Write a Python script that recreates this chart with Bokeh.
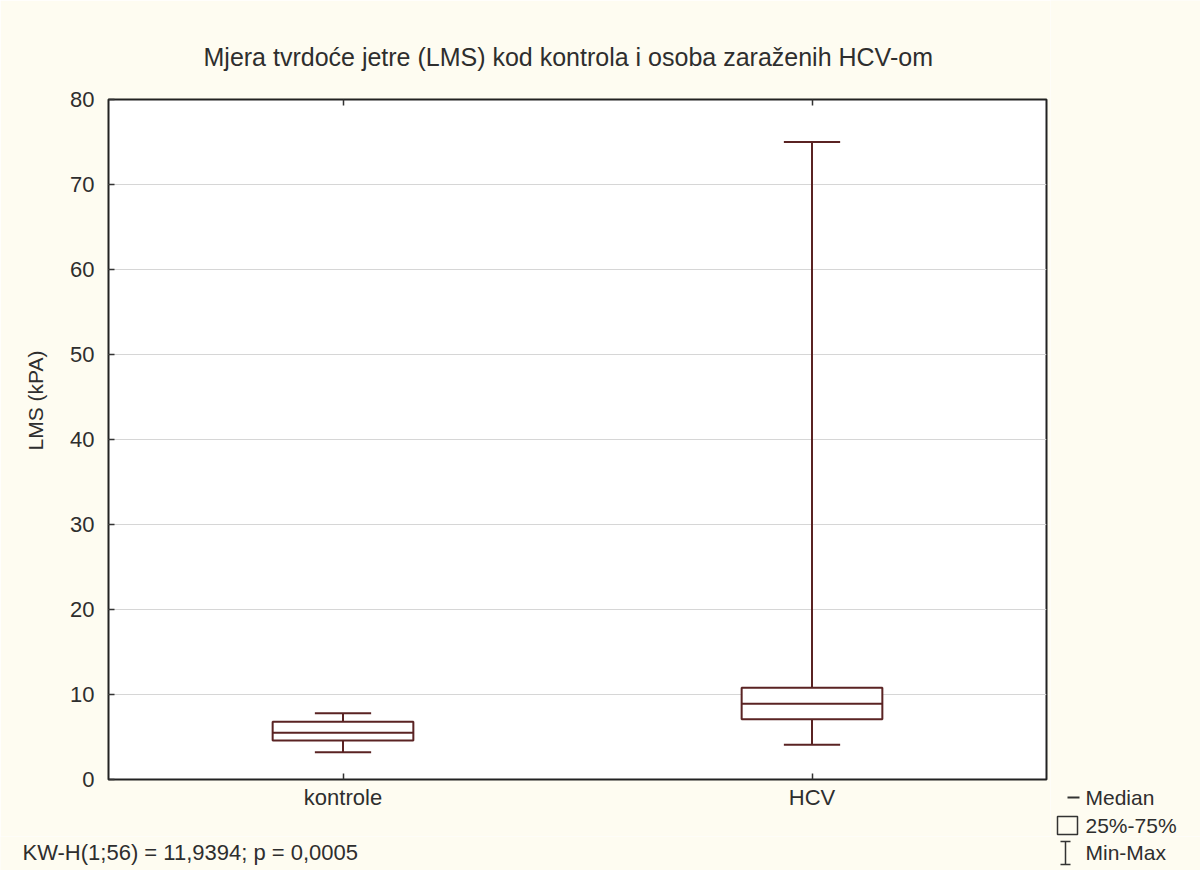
from bokeh.plotting import figure
from bokeh.models import Range1d, FixedTicker, LinearAxis, Title
from bokeh.layouts import row, column
from bokeh.embed import file_html
from bokeh.resources import INLINE
from bokeh.core.properties import value

# ---- data ----
categories = ["kontrole", "HCV"]
mins = [3.2, 4.1]
q1s = [4.6, 7.1]
medians = [5.5, 8.9]
q3s = [6.8, 10.8]
maxs = [7.8, 75.0]
y_ticks = [0, 10, 20, 30, 40, 50, 60, 70, 80]

title_text = "Mjera tvrdoće jetre (LMS) kod kontrola i osoba zaraženih HCV-om"
y_label = "LMS (kPA)"
stat_text = "KW-H(1;56) = 11,9394; p = 0,0005"
legend_labels = ["Median", "25%-75%", "Min-Max"]

FONT = "Liberation Sans"
TXT = "#2e2e2e"
LINE = "#5a2323"
SYM = "#333333"
BG = "#fefcf1"

MAIN_W, MAIN_H = 1050, 836
SIDE_W, TOTAL_W, TOTAL_H = 150, 1200, 870
BOT_H = TOTAL_H - MAIN_H

p = figure(width=MAIN_W, height=MAIN_H, output_backend="svg", toolbar_location=None,
           x_range=Range1d(0.5, 2.5), y_range=Range1d(0, 80),
           min_border_left=108, min_border_right=4,
           min_border_top=99, min_border_bottom=57,
           background_fill_color="white", border_fill_color=BG)
p.outline_line_color = "#222222"
p.outline_line_width = 2

xs = [i + 1 for i in range(len(categories))]

# axes
p.xaxis.ticker = FixedTicker(ticks=xs)
p.xaxis.major_label_overrides = {x: c for x, c in zip(xs, categories)}
p.yaxis.ticker = FixedTicker(ticks=y_ticks)
for ax in [p.xaxis[0], p.yaxis[0]]:
    ax.axis_line_color = None
    ax.major_tick_in = 6
    ax.major_tick_out = 0
    ax.minor_tick_line_color = None
    ax.major_tick_line_color = "#333333"
    ax.major_tick_line_width = 1.5
    ax.major_label_text_font = FONT
    ax.major_label_text_font_size = "22px"
    ax.major_label_text_color = TXT
p.xaxis.major_label_standoff = 5
p.yaxis.major_label_standoff = 14

top = LinearAxis(ticker=FixedTicker(ticks=xs), axis_line_color=None,
                 major_tick_in=6, major_tick_out=0, minor_tick_line_color=None,
                 major_tick_line_color="#333333", major_tick_line_width=1.5,
                 major_label_text_alpha=0, major_label_text_font_size="1px")
p.add_layout(top, "above")

p.xgrid.grid_line_color = None
p.ygrid.ticker = FixedTicker(ticks=y_ticks)
p.ygrid.grid_line_color = "#d6d6d6"
p.ygrid.grid_line_width = 1

# boxes
box_w = 0.30
cap_w = 0.12
p.segment(x0=xs, y0=mins, x1=xs, y1=q1s, line_color=LINE, line_width=2)
p.segment(x0=xs, y0=q3s, x1=xs, y1=maxs, line_color=LINE, line_width=2)
p.segment(x0=[x - cap_w / 2 for x in xs], y0=mins, x1=[x + cap_w / 2 for x in xs], y1=mins,
          line_color=LINE, line_width=2)
p.segment(x0=[x - cap_w / 2 for x in xs], y0=maxs, x1=[x + cap_w / 2 for x in xs], y1=maxs,
          line_color=LINE, line_width=2)
p.vbar(x=xs, bottom=q1s, top=q3s, width=box_w, fill_color="white",
       line_color=LINE, line_width=2)
p.segment(x0=[x - box_w / 2 for x in xs], y0=medians, x1=[x + box_w / 2 for x in xs], y1=medians,
          line_color=LINE, line_width=2)

# title
p.title.text = title_text
p.title.align = "left"
p.title.offset = 95
p.title.text_font = FONT
p.title.text_font_size = "25px"
p.title.text_font_style = "normal"
p.title.text_color = TXT
p.title.standoff = 58

# y label as a side title
p.add_layout(Title(text=y_label, align="left", offset=329, text_font=FONT,
                   text_font_size="21px", text_font_style="normal",
                   text_color=TXT, standoff=42), "left")


def blank(w, h):
    f = figure(width=w, height=h, output_backend="svg", toolbar_location=None,
               x_axis_type=None, y_axis_type=None,
               x_range=Range1d(0, w), y_range=Range1d(h, 0),
               min_border=0, background_fill_color=BG, border_fill_color=BG)
    f.outline_line_color = None
    f.grid.visible = False
    return f


def legend_text(f, x, ys, labels):
    f.text(x=[x] * len(labels), y=ys, text=labels, text_font=value(FONT),
           text_font_size="21px", text_color=TXT, text_baseline="middle")


# legend column at the right of the chart (pixel coordinates, y downward)
side = blank(SIDE_W, MAIN_H)
row_y = [797, 825]
legend_text(side, 35, row_y, legend_labels[:2])
# Median symbol
side.segment(x0=[17], y0=[row_y[0]], x1=[29], y1=[row_y[0]], line_color=SYM, line_width=2)
# 25%-75% symbol
side.quad(left=[7], right=[27], top=[row_y[1] - 9], bottom=[row_y[1] + 9],
          fill_color=None, line_color=SYM, line_width=1.5)

# bottom strip: statistic text and the last legend row
bottom = blank(TOTAL_W, BOT_H)
yb = 852 - MAIN_H
bottom.text(x=[22], y=[yb], text=[stat_text], text_font=value(FONT),
            text_font_size="22px", text_color=TXT, text_baseline="middle")
legend_text(bottom, MAIN_W + 35, [yb], legend_labels[2:])
mx = MAIN_W + 15
bottom.segment(x0=[mx, mx - 5, mx - 5], y0=[yb - 11, yb - 11, yb + 12],
               x1=[mx, mx + 5, mx + 5], y1=[yb + 12, yb - 11, yb + 12],
               line_color=SYM, line_width=1.5)

# wrapping p in its own column keeps the row from aligning the two frames
layout = column(row(column(p, spacing=0), side, spacing=0), bottom, spacing=0)
open("out.html", "w").write(file_html(layout, INLINE))
